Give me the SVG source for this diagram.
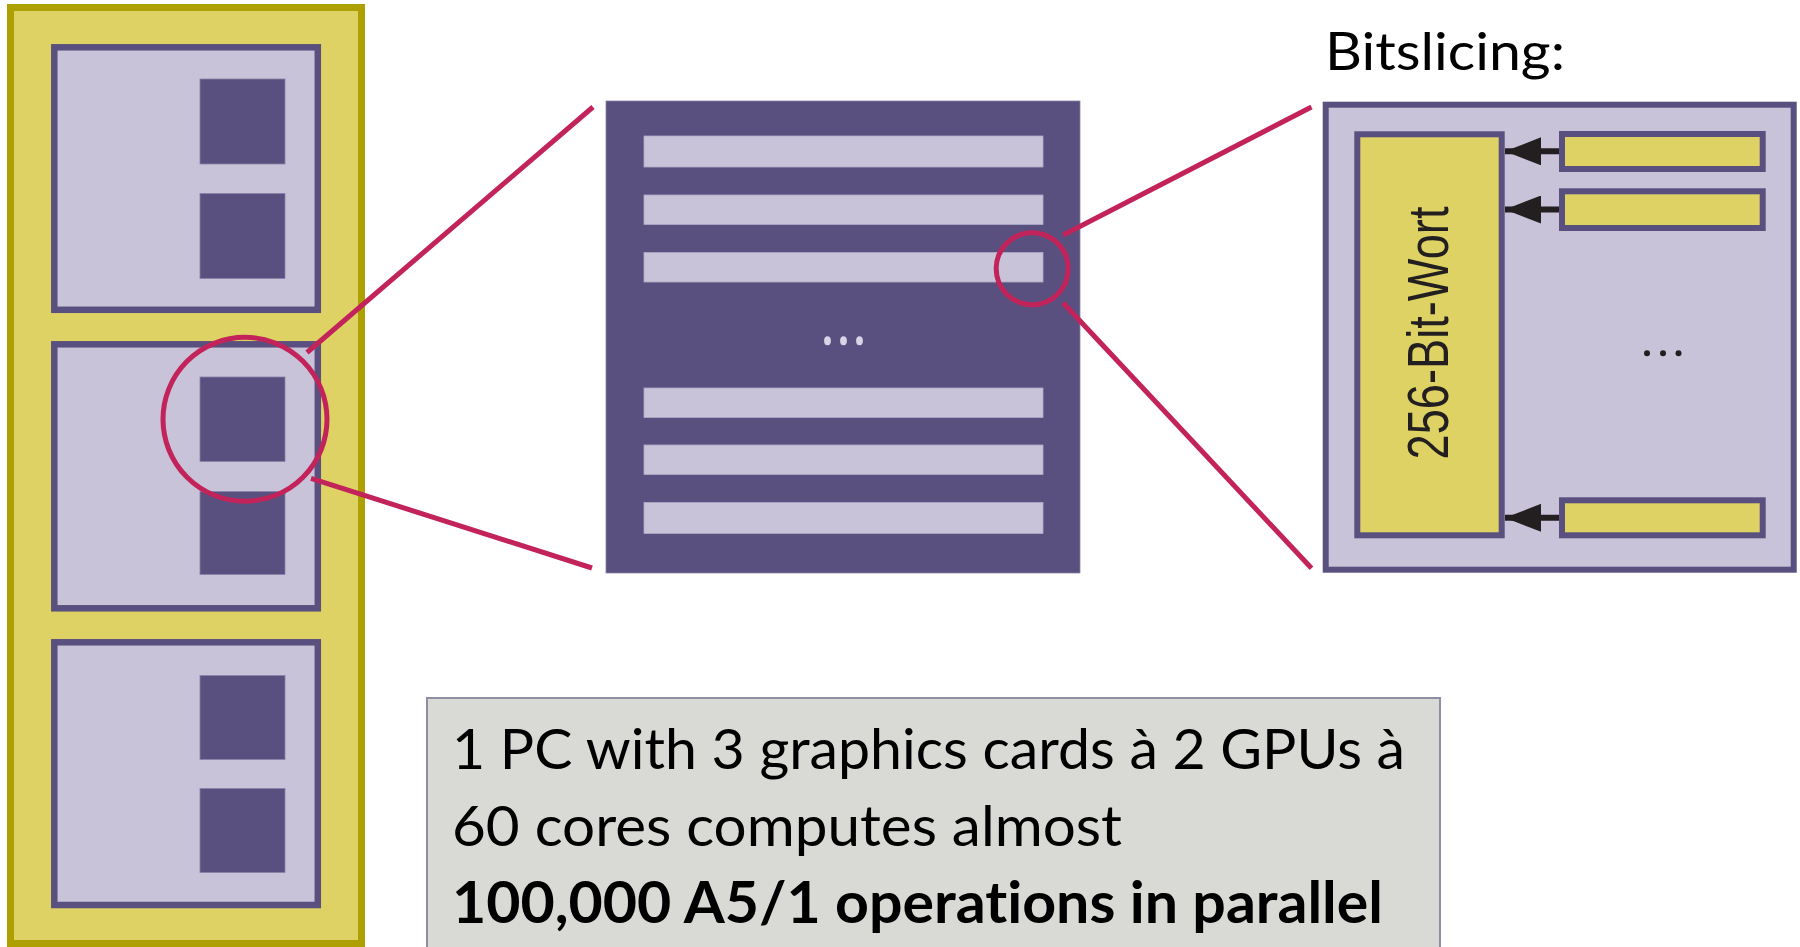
<svg xmlns="http://www.w3.org/2000/svg" width="1800" height="947" viewBox="0 0 1800 947">
<defs>
<style>
.lav{fill:#C8C3D8;stroke:#59507F;stroke-width:6.5}
.sq{fill:#59507F;stroke:#8A82A8;stroke-width:0.8}
.bar{fill:#C8C3D8;stroke:#B0AAC8;stroke-width:0.8}
.zoom{fill:none;stroke:#C2235A;stroke-width:5}
.ybar{fill:#DED264;stroke:#59507F;stroke-width:6}
.arr{stroke:#231F20;stroke-width:6;fill:none}
.txt{font-family:Lato,"Open Sans","Liberation Sans",sans-serif;fill:#000;font-variant-ligatures:none;font-feature-settings:"liga" 0}
.word{font-family:"Liberation Sans",Arial,sans-serif;fill:#231F20}
</style>
<marker id="ah" viewBox="0 0 36 28" refX="36" refY="14" markerWidth="36" markerHeight="28" markerUnits="userSpaceOnUse" orient="auto">
<path d="M0,0 L36,14 L0,28 Z" fill="#231F20"/>
</marker>
</defs>
<rect width="1800" height="947" fill="#FFFFFF"/>

<g id="pc">
<rect x="10.5" y="7.5" width="351" height="936" fill="#DED264" stroke="#ADA000" stroke-width="7"/>
</g>
<g id="card1">
<rect class="lav" x="54.3" y="47.3" width="263.5" height="262.5"/>
<rect class="sq" x="200" y="79" width="85" height="85"/>
<rect class="sq" x="200" y="193.5" width="85" height="85"/>
</g>
<g id="card2">
<rect class="lav" x="54.3" y="344.3" width="263.5" height="264"/>
<rect class="sq" x="200" y="377" width="85" height="84.5"/>
<rect class="sq" x="200" y="491.5" width="85" height="83"/>
</g>
<g id="card3">
<rect class="lav" x="54.3" y="642.3" width="263.5" height="262.7"/>
<rect class="sq" x="200" y="675.5" width="85" height="84"/>
<rect class="sq" x="200" y="788.5" width="85" height="84"/>
</g>

<g id="gpu">
<rect x="606" y="101" width="474" height="472" fill="#59507F" stroke="#8A82A8" stroke-width="0.8"/>
<rect class="bar" x="644" y="136" width="399" height="31"/>
<rect class="bar" x="644" y="195" width="399" height="29.5"/>
<rect class="bar" x="644" y="252.5" width="399" height="29.5"/>
<rect class="bar" x="644" y="388" width="399" height="29.5"/>
<rect class="bar" x="644" y="445" width="399" height="29.5"/>
<rect class="bar" x="644" y="502.5" width="399" height="31"/>
<ellipse cx="827.5" cy="340.7" rx="3.4" ry="4.5" fill="#D8D4E6"/>
<ellipse cx="843.5" cy="340.7" rx="3.4" ry="4.5" fill="#D8D4E6"/>
<ellipse cx="859.5" cy="340.7" rx="3.4" ry="4.5" fill="#D8D4E6"/>
</g>

<g id="bitslice">
<rect x="1325.7" y="104.7" width="468" height="465" fill="#C8C3D8" stroke="#59507F" stroke-width="6"/>
<rect class="ybar" x="1357.3" y="134.3" width="144.4" height="401"/>
<text class="word" transform="translate(1448,333) rotate(-90)" text-anchor="middle" x="0" y="0" font-size="58" textLength="253" lengthAdjust="spacingAndGlyphs">256-Bit-Wort</text>
<rect class="ybar" x="1562" y="134" width="200.7" height="35"/>
<rect class="ybar" x="1562" y="191.3" width="200.7" height="36.7"/>
<rect class="ybar" x="1562" y="500.3" width="200.7" height="35"/>
<circle cx="1647" cy="353.3" r="3" fill="#231F20"/>
<circle cx="1663" cy="353.3" r="3" fill="#231F20"/>
<circle cx="1678.5" cy="353.3" r="3" fill="#231F20"/>
</g>

<g id="title">
<text class="txt" x="1325" y="70" font-size="52" textLength="240" lengthAdjust="spacingAndGlyphs">Bitslicing:</text>
</g>

<g id="note">
<rect x="427" y="698" width="1013" height="270" fill="#D9D9D5" stroke="#8E8FA3" stroke-width="2"/>
<text class="txt" x="452" y="769.3" font-size="57" textLength="953" lengthAdjust="spacingAndGlyphs">1 PC with 3 graphics cards à 2 GPUs à</text>
<text class="txt" x="452" y="845.7" font-size="57" textLength="670" lengthAdjust="spacingAndGlyphs">60 cores computes almost</text>
<text class="txt" x="452" y="922.7" font-size="57" font-weight="bold" textLength="931" lengthAdjust="spacingAndGlyphs">100,000 A5/1 operations in parallel</text>
</g>

<g id="connectors">
<circle class="zoom" cx="245" cy="419.3" r="82"/>
<line class="zoom" x1="307" y1="352.5" x2="593" y2="107"/>
<line class="zoom" x1="311" y1="478.3" x2="592" y2="568"/>
<circle class="zoom" cx="1032.2" cy="268.7" r="36" stroke-width="4.5"/>
<line class="zoom" x1="1063.3" y1="235" x2="1311.5" y2="107"/>
<line class="zoom" x1="1063" y1="302.7" x2="1311.5" y2="568.3"/>
<line class="arr" x1="1559" y1="151.3" x2="1505" y2="151.3" marker-end="url(#ah)"/>
<line class="arr" x1="1559" y1="209.5" x2="1505" y2="209.5" marker-end="url(#ah)"/>
<line class="arr" x1="1559" y1="517.8" x2="1505" y2="517.8" marker-end="url(#ah)"/>
</g>
</svg>
